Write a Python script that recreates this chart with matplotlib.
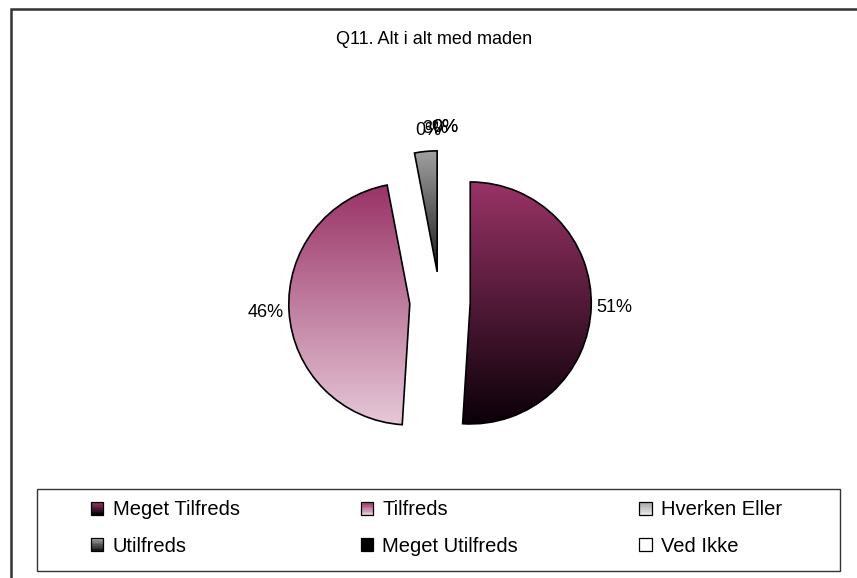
import numpy as np
import matplotlib
matplotlib.use('Agg')
import matplotlib.pyplot as plt
from matplotlib.patches import Rectangle, Patch
from matplotlib.legend_handler import HandlerBase
from matplotlib.colors import to_rgb

plt.rcParams['font.family'] = ['Liberation Sans', 'DejaVu Sans']

# data
categories = ['Meget Tilfreds', 'Tilfreds', 'Hverken Eller', 'Utilfreds',
              'Meget Utilfreds', 'Ved Ikke']
shares = [51, 46, 0, 3, 0, 0]
title = 'Q11. Alt i alt med maden'

# gradient colours (top -> bottom) for each category
grad_top = ['#993366', '#993366', '#a8a8a8', '#a0a0a0', '#000000', '#ffffff']
grad_bottom = ['#0a0008', '#e6c8d8', '#e6e6e6', '#1a1a1a', '#000000', '#ffffff']

W, H = 857, 578
R = 121            # pie radius in pixels
cx, cy = 440, 302  # pie centre (pixels from top-left)


def gradient(c0, c1, n=256):
    t = np.linspace(0, 1, n)[:, None, None]
    return (1 - t) * np.array(to_rgb(c0)) + t * np.array(to_rgb(c1))


class GradientHandler(HandlerBase):
    def create_artists(self, legend, orig_handle, xdescent, ydescent,
                       width, height, fontsize, trans):
        c0, c1 = orig_handle.grad
        n = 8
        cols = gradient(c0, c1, n)[:, 0, :]
        arts = []
        for i in range(n):
            arts.append(Rectangle((-xdescent, -ydescent + height * (1 - (i + 1) / n)),
                                  width, height / n, facecolor=cols[i],
                                  edgecolor='none', transform=trans))
        arts.append(Rectangle((-xdescent, -ydescent), width, height,
                              facecolor='none', edgecolor='black', lw=0.9,
                              transform=trans))
        return arts


fig = plt.figure(figsize=(W / 100, H / 100), dpi=100)
ax = fig.add_axes([0, 0, 1, 1])

wedges, _ = ax.pie(shares, startangle=90, counterclock=False,
                   explode=[0.25] * len(shares), radius=1,
                   wedgeprops=dict(edgecolor='black', linewidth=1.2,
                                   facecolor='none'))

# small horizontal nudges for the crowded labels at the top
label_dx = [0, 0, 0.17, 0.1, 0.04, 0.04]

for w, c0, c1, v, dx in zip(wedges, grad_top, grad_bottom, shares, label_dx):
    if v > 0:
        verts = w.get_path().vertices
        x0, x1 = verts[:, 0].min(), verts[:, 0].max()
        y0, y1 = verts[:, 1].min(), verts[:, 1].max()
        im = ax.imshow(gradient(c0, c1), extent=(x0, x1, y0, y1),
                       aspect='auto', origin='upper', interpolation='bilinear',
                       zorder=w.get_zorder() - 0.1)
        im.set_clip_path(w)
    else:
        w.set_linewidth(0)
    # data label
    ang = np.deg2rad((w.theta1 + w.theta2) / 2)
    lx = w.center[0] + 1.19 * w.r * np.cos(ang) + dx
    ly = w.center[1] + 1.19 * w.r * np.sin(ang)
    ax.text(lx, ly, f'{v}%', ha='center', va='center', fontsize=13)

ax.set_xlim(-cx / R, (W - cx) / R)
ax.set_ylim(-(H - cy) / R, cy / R)
ax.axis('off')

fig.text(434 / W, 1 - 40 / H, title, ha='center', va='center', fontsize=13)

# outer frame and legend box
fig.add_artist(Rectangle((11 / W, -0.1), 1.2, (H - 9) / H + 0.1,
                         transform=fig.transFigure, fill=False,
                         edgecolor='#333333', lw=1.8))
fig.add_artist(Rectangle((37 / W, (H - 571) / H), (840 - 37) / W, (571 - 489) / H,
                         transform=fig.transFigure, fill=False,
                         edgecolor='#333333', lw=1.0))

handles = []
for c0, c1 in zip(grad_top, grad_bottom):
    p = Patch()
    p.grad = (c0, c1)
    handles.append(p)

# legend fills column-major, reorder so rows read left to right
order = [0, 3, 1, 4, 2, 5]
fig.legend([handles[i] for i in order], [categories[i] for i in order],
           loc='center', bbox_to_anchor=(91 / W, 1 - 528 / H, (782 - 91) / W, 0),
           mode='expand', ncol=3, frameon=False, fontsize=14.5,
           handlelength=0.62, handleheight=0.62, handletextpad=0.45,
           labelspacing=0.85, borderaxespad=0, borderpad=0,
           handler_map={Patch: GradientHandler()})

fig.savefig('out.png', dpi=100)
